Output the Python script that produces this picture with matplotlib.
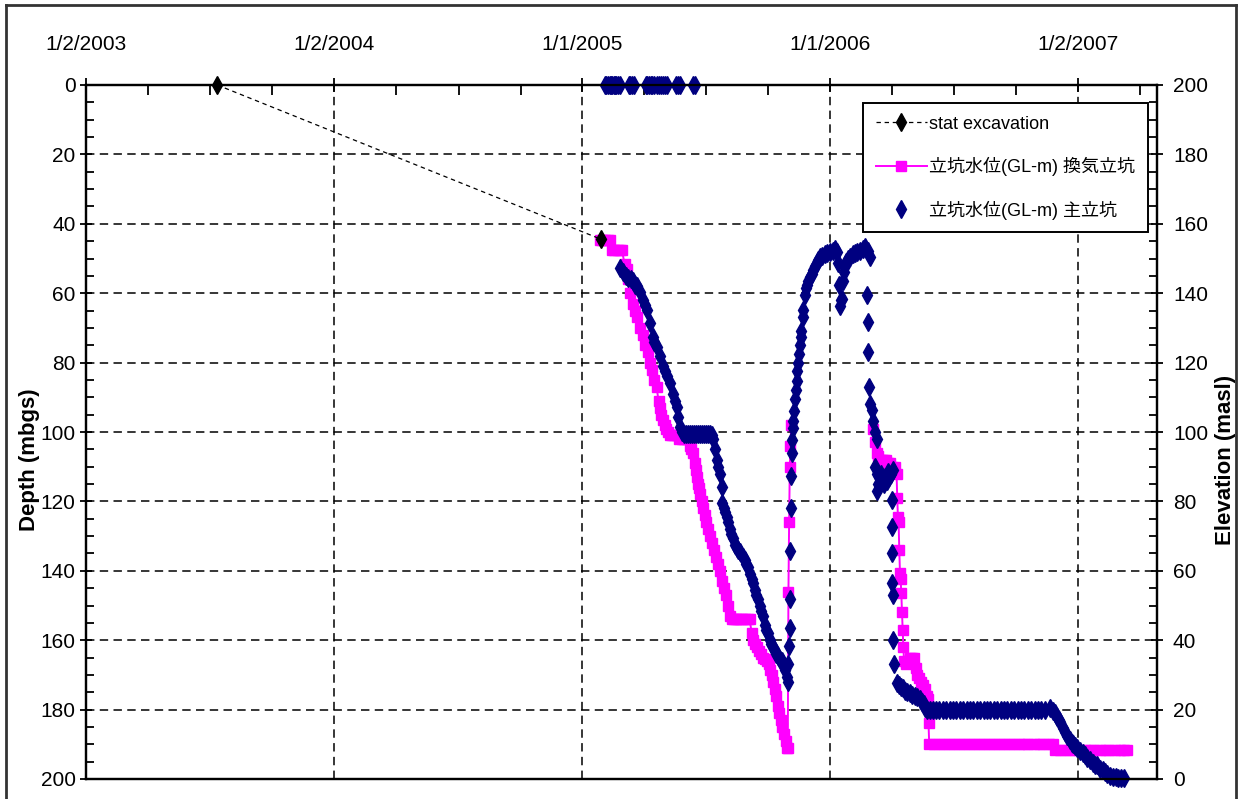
import numpy as np
import matplotlib
matplotlib.use('Agg')
import matplotlib.pyplot as plt
from matplotlib.lines import Line2D
from matplotlib.ticker import MultipleLocator

plt.rcParams['font.family'] = ['Liberation Sans Narrow', 'Liberation Sans', 'Noto Sans CJK JP', 'DejaVu Sans']

# all x values are days counted from 1/1/2005, depths in m below ground
base = np.datetime64('2005-01-01')

exc_day = [-536, 29]
exc_depth = [0, 44.5]

# ventilation shaft, first run (until the level recovered)
vent_day_a = [27, 30, 34, 38, 41, 44, 48, 53, 57, 59, 63, 66, 68, 71, 75, 79, 82, 86, 90, 93,
              97, 100, 103, 107, 110, 113, 115, 117, 119, 122, 124, 127, 130, 133, 136, 140, 143,
              147, 151, 155, 159, 161, 163, 166, 168, 169, 171, 172, 174, 177, 179, 181, 183, 185,
              188, 191, 194, 197, 200, 203, 206, 209, 212, 215, 218, 221, 224, 227, 230, 233, 236,
              240, 244, 247, 250, 252, 255, 258, 261, 264, 267, 269, 272, 275, 277, 280, 282, 284,
              286, 288, 290, 293, 295, 297, 300, 302, 303, 304, 305, 306, 307, 308]
vent_depth_a = [44.7, 44.7, 44.7, 44.7, 44.7, 47.5, 47.5, 47.5, 47.5, 47.5, 51.5, 53, 56, 60, 63,
                65, 67, 70, 72, 75, 77, 80, 82, 85, 87, 91, 93, 95, 96.5, 98, 99, 100, 101, 101,
                101, 101, 102, 102, 102, 102, 104, 105, 106, 109, 111, 113, 115, 116, 118, 120, 122,
                124, 126, 128, 130, 132, 134, 136, 138, 140, 143, 145, 147, 150, 153, 154, 154, 154,
                154, 154, 154, 154, 154, 154, 158, 160, 161, 162, 163, 164, 165, 165.5, 166, 167,
                168.5, 170, 172, 174, 176, 179, 181, 183, 185, 187, 189, 191, 191, 146, 126, 110,
                104, 98]

# ventilation shaft, second run
vent_day_b = [428, 431, 434, 436, 439, 442, 445, 448, 451, 454, 457, 460, 463, 464, 465, 466, 467,
              468, 469, 470, 471, 472, 473, 474, 477, 480, 483, 486, 489, 491, 493, 496, 499, 502,
              505, 508, 509, 510, 511, 518, 525, 533, 540, 547, 555, 562, 569, 577, 584, 591, 599,
              606, 613, 621, 628, 635, 643, 650, 657, 665, 672, 679, 687, 693, 696, 703, 710, 718,
              725, 732, 740, 747, 754, 762, 769, 776, 784, 791, 798, 802]
vent_depth_b = [99, 103, 106, 107, 108, 108, 108, 108, 109, 109, 110, 110, 112, 119, 124.5, 126,
                134, 140.5, 142.5, 146.5, 152, 157, 162, 166, 167, 166, 165, 165, 165, 168, 170,
                171, 172, 173, 174, 176, 177, 184, 189.8, 189.8, 189.8, 189.8, 189.8, 189.8, 189.8,
                189.8, 189.8, 189.8, 189.8, 189.8, 189.8, 189.8, 189.8, 189.8, 189.8, 189.8, 189.8,
                189.8, 189.8, 189.8, 189.8, 189.8, 189.8, 189.8, 191.7, 191.7, 191.7, 191.7, 191.7,
                191.7, 191.7, 191.7, 191.7, 191.7, 191.7, 191.7, 191.7, 191.7, 191.7, 191.7]

# main shaft
main_day = [34, 36, 38, 41, 43, 45, 47, 49, 51, 54, 56, 69, 71, 74, 77, 94, 96, 99, 102, 104,
            107, 110, 113, 116, 119, 122, 125, 139, 141, 144, 164, 166,
            56, 60, 65, 68, 72, 75, 78, 81, 85, 90, 93, 96, 100, 105, 107, 110, 115, 119, 122, 125,
            130, 134, 137, 140, 141, 144, 147, 150, 153, 156, 159, 162, 165, 168, 171, 174, 177,
            180, 183, 186, 188, 191, 193, 196, 199, 201, 203, 206, 207, 209, 211, 213, 215, 218,
            220, 222, 225, 228, 230, 233, 237, 240, 242, 244, 247, 250, 252, 255, 257, 259, 262,
            264, 266, 269, 271, 274, 277, 279, 281, 284, 286, 289, 291, 294, 296, 299, 302, 304,
            304, 305, 306, 307, 307, 308, 308, 309, 309, 310,
            311, 312, 314, 315, 316, 317, 318, 319, 321, 322, 323, 325, 326, 328, 330, 331, 333,
            336, 338, 340, 343, 346, 348, 350, 354, 358, 361, 365, 369, 372, 375, 377, 378, 380,
            381, 383, 384, 386, 387, 389, 392, 395, 399, 402, 405, 409, 413, 417, 421, 424,
            420, 421, 421, 422, 424, 427, 428, 431, 434,
            431, 434, 437, 440, 443, 446, 449, 452, 455, 458, 434, 436, 444, 450,
            456, 456, 457, 457, 458, 458, 459, 463, 466, 469, 472, 476, 479, 483, 486, 490, 493,
            497, 500, 503, 505, 508, 512,
            516, 521, 526, 531, 536, 541, 546, 551, 556, 561, 566, 571, 576, 581, 586, 591, 596,
            601, 606, 611, 616, 621, 626, 631, 636, 641, 646, 651, 656, 661, 666, 671, 676, 681,
            689, 693, 696, 699, 702, 704, 708, 711, 714, 718, 721, 723, 726, 729, 733, 737, 740,
            743, 748, 752, 755, 758, 762, 767, 770, 773, 777, 781, 785, 789, 793, 797]
main_depth = [0, 0, 0, 0, 0, 0, 0, 0, 0, 0, 0, 0, 0, 0, 0, 0, 0, 0, 0, 0,
              0, 0, 0, 0, 0, 0, 0, 0, 0, 0, 0, 0,
              52.7, 54, 55, 55.6, 56, 56.5, 57.5, 58, 59.6, 62, 63.5, 64.8, 68.6, 72.6, 74, 75.5,
              78, 81, 82.5, 84, 86, 89, 91, 92.8, 95.7, 98.6, 100, 100.5, 100.5, 100.5, 100.5,
              100.5, 100.5, 100.5, 100.5, 100.5, 100.5, 100.5, 100.5, 100.5, 100.5, 101, 102, 105,
              108, 110, 112, 115.8, 120.5, 122, 123, 124.5, 126, 128, 129.5, 130.5, 132.6, 133.5,
              134, 134.6, 136, 137, 138, 139, 141, 142.5, 143.5, 145.5, 147, 148, 150, 151.5, 153,
              155.6, 157, 158, 160, 161, 162, 163, 164, 164.5, 165.7, 166, 167, 168.6, 170.5, 172,
              167, 161.8, 156.6, 148, 134.4, 122, 112.7, 106, 102.4, 98.8,
              96.7, 94, 90.5, 88, 85.3, 82.5, 80, 77.5, 75, 72.5, 71, 67, 64.7, 60.5, 58.5, 57.5,
              56.5, 55.4, 54.5, 53.4, 52.3, 51.3, 50.5, 49.7, 49.2, 48.7, 48.5, 48.2, 47.7, 47.2,
              48, 51.3, 57.5, 63.7, 62, 61.7, 56.5, 54, 52.3, 51, 50.2, 49.5, 48.7, 48.3, 48, 47.7,
              47.2, 46.7, 47.7, 49.7,
              60.5, 68.3, 77, 87, 92, 93.6, 96.7, 99.9, 101.9,
              110, 112, 113, 112, 114, 113, 114, 113, 112, 111, 117, 115, 115, 111.5,
              119.6, 127.4, 135, 143.5, 147, 160, 167, 172.3, 173, 173.5, 173.8, 174.5, 175, 175.2,
              175.8, 176, 176.4, 177, 177.8, 178.5, 179.5, 180, 180,
              180, 180, 180, 180, 180, 180, 180, 180, 180, 180, 180, 180, 180, 180, 180, 180, 180,
              180, 180, 180, 180, 180, 180, 180, 180, 180, 180, 180, 180, 180, 180, 180, 180, 180,
              179.5, 180.5, 181, 182, 183, 183.5, 185.3, 186.5, 187.5, 188.8, 189.5, 190, 190.5,
              191, 192, 192.5, 193, 194, 194.5, 195.5, 196, 196, 197, 197.4, 198, 198.5, 199.2,
              199.5, 199.5, 199.7, 199.7, 199.7]

# x axis: yearly labels and the axis end
year_ticks = [-729, -364, 0, 365, 730]
year_labels = ['1/2/2003', '1/2/2004', '1/1/2005', '1/1/2006', '1/2/2007']
x_end = 846


def to_date(days):
    return base + np.array(days, dtype='timedelta64[D]')


fig = plt.figure(figsize=(12.43, 7.99), dpi=100)
ax = fig.add_axes([86 / 1243, 1 - 779 / 799, (1157 - 86) / 1243, (779 - 85) / 799])

ax.plot(to_date(exc_day), exc_depth, color='black', lw=0.9, ls=(0, (3.5, 3)),
        marker='d', ms=9, mfc='black', mec='black', clip_on=False, zorder=4,
        label='stat excavation')
ax.plot(to_date(vent_day_a), vent_depth_a, color='#ff00ff', lw=1.4, marker='s', ms=6.5,
        mec='#ff00ff', zorder=3, label='立坑水位(GL-m) 換気立坑')
ax.plot(to_date(vent_day_b), vent_depth_b, color='#ff00ff', lw=1.4, marker='s', ms=6.5,
        mec='#ff00ff', zorder=3)
ax.plot(to_date(main_day), main_depth, ls='none', marker='d', ms=9, color='#000080',
        mec='#000080', clip_on=False, zorder=5, label='立坑水位(GL-m) 主立坑')

ax.set_ylim(200, 0)
ax.set_xlim(to_date([year_ticks[0]])[0], to_date([x_end])[0])
ax.yaxis.set_major_locator(MultipleLocator(20))
ax.yaxis.set_minor_locator(MultipleLocator(5))

ax.xaxis.tick_top()
ax.set_xticks(to_date(year_ticks))
ax.set_xticklabels(year_labels)
minor_days = [d + q for d in year_ticks for q in (91, 183, 274)]
ax.set_xticks(to_date([d for d in minor_days if d < x_end]), minor=True)

ax.grid(True, which='major', color='black', lw=1.1, ls=(0, (5.5, 3.5)), zorder=1)
ax.set_axisbelow(True)

ax.tick_params(axis='x', which='major', direction='inout', length=10, width=1.3,
               labelsize=15, pad=17)
ax.tick_params(axis='x', which='minor', direction='in', length=7, width=1.3)
ax.tick_params(axis='y', which='major', direction='inout', length=9, width=1.3,
               labelsize=15, pad=3)
ax.tick_params(axis='y', which='minor', direction='in', length=6, width=1.3)

for sp in ax.spines.values():
    sp.set_linewidth(1.6)

ax2 = ax.twinx()
ax2.set_ylim(0, 200)
ax2.yaxis.set_major_locator(MultipleLocator(20))
ax2.yaxis.set_minor_locator(MultipleLocator(5))
ax2.tick_params(axis='y', which='major', direction='inout', length=9, width=1.3,
                labelsize=15, pad=7)
ax2.tick_params(axis='y', which='minor', direction='in', length=6, width=1.3)
for sp in ax2.spines.values():
    sp.set_linewidth(1.6)

leg = ax.legend(loc='upper right', bbox_to_anchor=(0.9916, 0.974), borderaxespad=0,
                fontsize=13, frameon=True, fancybox=False, edgecolor='black', framealpha=1,
                handlelength=2.8, handletextpad=0.15, labelspacing=1.35, borderpad=0.7)
leg.get_frame().set_linewidth(1.4)
leg.set_zorder(10)

fig.text(30 / 1243, 1 - 460 / 799, 'Depth (mbgs)', rotation=90, ha='center', va='center',
         fontsize=16, fontweight='bold')
fig.text(1226 / 1243, 1 - 460 / 799, 'Elevation (masl)', rotation=90, ha='center',
         va='center', fontsize=16, fontweight='bold')

# outer chart frame
frame = dict(color='#333333', lw=2, transform=fig.transFigure)
fig.add_artist(Line2D([6 / 1243, 6 / 1243], [0, 1 - 5 / 799], **frame))
fig.add_artist(Line2D([6 / 1243, 1236 / 1243], [1 - 5 / 799, 1 - 5 / 799], **frame))
fig.add_artist(Line2D([1236 / 1243, 1236 / 1243], [0, 1 - 5 / 799], **frame))

fig.savefig('out.png', dpi=100, facecolor='white')
